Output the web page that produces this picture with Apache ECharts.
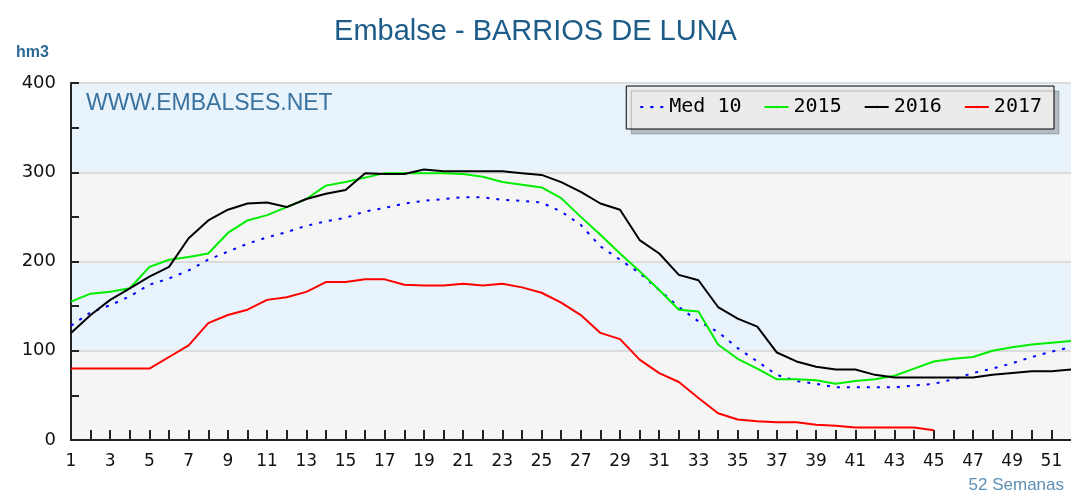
<!DOCTYPE html>
<html>
<head>
<meta charset="utf-8">
<script src="https://cdn.jsdelivr.net/npm/echarts@6/dist/echarts.min.js"></script>
<style>
html, body { margin: 0; padding: 0; background: #fff; }
#chart { width: 1071px; height: 491px; }
</style>
</head>
<body>
<div id="chart"></div>
<script>
// semanas 1..52
var weeks = [];
for (var i = 1; i <= 52; i++) weeks.push(i);

var med10 = [128, 143, 151, 161, 174, 181, 190, 202, 211, 220, 227, 233, 240, 245, 249, 256,
    260, 265, 268, 270, 272, 272, 269, 268, 266, 256, 241, 217, 202, 187, 168, 149,
    133, 121, 103, 88, 73, 66, 63, 59, 59, 59, 59, 61, 63, 68, 75, 80, 86, 93, 99, 104];
var y2015 = [155, 164, 166, 170, 194, 202, 205, 209, 232, 246, 252, 261, 270, 285, 289, 294,
    299, 299, 299, 299, 298, 295, 289, 286, 283, 271, 250, 230, 209, 189, 168, 146,
    144, 107, 91, 80, 68, 68, 67, 63, 66, 68, 72, 80, 88, 91, 93, 100, 104, 107, 109, 111];
var y2016 = [120, 140, 157, 170, 183, 194, 226, 246, 258, 265, 266, 261, 270, 276, 280, 299,
    298, 298, 303, 301, 301, 301, 301, 299, 297, 289, 278, 265, 258, 224, 209, 185,
    179, 149, 136, 127, 98, 88, 82, 79, 79, 73, 70, 70, 70, 70, 70, 73, 75, 77, 77, 79];
var y2017 = [80, 80, 80, 80, 80, 93, 106, 131, 140, 146, 157, 160, 166, 177, 177, 180,
    180, 174, 173, 173, 175, 173, 175, 171, 165, 154, 140, 120, 113, 90, 75, 65,
    47, 30, 23, 21, 20, 20, 17, 16, 14, 14, 14, 14, 11];

function pairs(arr) {
    return arr.map(function (v, i) { return [weeks[i], v]; });
}

var chart = echarts.init(document.getElementById('chart'));

var option = {
    animation: false,
    title: [
        {
            text: 'Embalse - BARRIOS DE LUNA',
            left: 'center',
            top: 12,
            textStyle: { fontFamily: 'Liberation Sans', fontSize: 29, fontWeight: 'normal', color: '#1d5c88' }
        },
        {
            text: 'hm3',
            left: 11,
            top: 40,
            textStyle: { fontFamily: 'Liberation Sans', fontSize: 16, fontWeight: 'bold', color: '#2d6a96' }
        },
        {
            text: 'WWW.EMBALSES.NET',
            left: 81,
            top: 87,
            textStyle: { fontFamily: 'Liberation Sans', fontSize: 23, fontWeight: 'normal', color: '#3a73a0' }
        },
        {
            text: '52 Semanas',
            right: 2,
            top: 472,
            textStyle: { fontFamily: 'Liberation Sans', fontSize: 17, fontWeight: 'normal', color: '#5e8fb5' }
        }
    ],
    legend: {
        right: 17,
        top: 86,
        orient: 'horizontal',
        padding: [11, 12, 12, 13],
        itemGap: 22,
        itemWidth: 24,
        itemHeight: 3,
        backgroundColor: '#ebebeb',
        borderColor: '#000',
        borderWidth: 1,
        shadowColor: 'rgba(0,0,0,0.22)',
        shadowOffsetX: 5,
        shadowOffsetY: 5,
        shadowBlur: 0,
        textStyle: { fontFamily: 'DejaVu Sans Mono', fontSize: 20, color: '#000' },
        data: ['Med 10', '2015', '2016', '2017']
    },
    grid: { left: 71, right: 0, top: 83, bottom: 51 },
    xAxis: {
        type: 'value',
        min: 1,
        max: 52,
        interval: 1,
        axisLine: { lineStyle: { color: '#222', width: 2 } },
        axisTick: { inside: true, length: 10, lineStyle: { color: '#222', width: 2 } },
        axisLabel: {
            margin: 13,
            fontFamily: 'DejaVu Sans',
            fontSize: 17,
            color: '#111',
            showMaxLabel: false,
            formatter: function (v) { return v % 2 === 1 ? String(v) : ''; }
        },
        splitLine: { show: false }
    },
    yAxis: {
        type: 'value',
        min: 0,
        max: 400,
        interval: 100,
        axisLine: { show: true, lineStyle: { color: '#222', width: 2 } },
        axisTick: { show: true, inside: true, length: 8, lineStyle: { color: '#222', width: 2 } },
        minorTick: { show: true, splitNumber: 2, length: 8, lineStyle: { color: '#222', width: 2 } },
        axisLabel: { margin: 15, fontFamily: 'DejaVu Sans', fontSize: 18, color: '#111' },
        splitLine: { show: true, lineStyle: { color: '#dcdcdc', width: 2 } },
        splitArea: { show: true, areaStyle: { color: ['#f5f5f5', '#e8f3fb'] } }
    },
    series: [
        {
            name: 'Med 10',
            type: 'line',
            symbol: 'none',
            data: pairs(med10),
            itemStyle: { color: '#0000ff' },
            lineStyle: { color: '#0000ff', width: 2, type: [3, 7] }
        },
        {
            name: '2015',
            type: 'line',
            symbol: 'none',
            data: pairs(y2015),
            itemStyle: { color: '#00ee00' },
            lineStyle: { color: '#00ee00', width: 2 }
        },
        {
            name: '2016',
            type: 'line',
            symbol: 'none',
            data: pairs(y2016),
            itemStyle: { color: '#000' },
            lineStyle: { color: '#000', width: 2 }
        },
        {
            name: '2017',
            type: 'line',
            symbol: 'none',
            data: pairs(y2017),
            itemStyle: { color: '#ff0000' },
            lineStyle: { color: '#ff0000', width: 2 }
        }
    ]
};

chart.setOption(option);
</script>
</body>
</html>
